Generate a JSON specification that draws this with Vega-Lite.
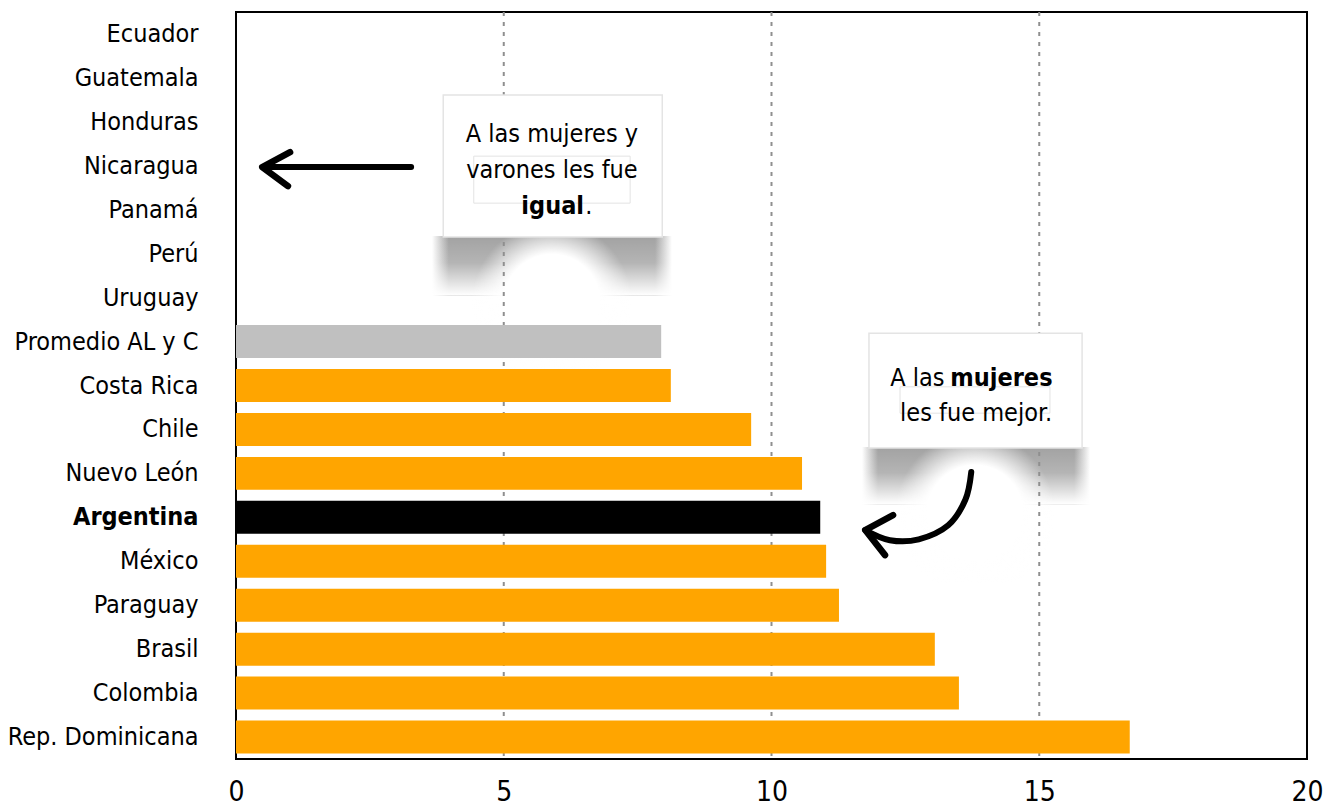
{
  "$schema": "https://vega.github.io/schema/vega-lite/v6.json",
  "autosize": {"type": "none"},
  "width": 1071,
  "height": 747,
  "padding": {"left": 236, "top": 12, "right": 17, "bottom": 50},
  "background": "white",
  "config": {
    "font": "DejaVu Sans Condensed",
    "view": {"stroke": "black", "strokeWidth": 2}
  },
  "datasets": {
    "bars": [
      {"pais": "Ecuador", "valor": 0, "grupo": "otro"},
      {"pais": "Guatemala", "valor": 0, "grupo": "otro"},
      {"pais": "Honduras", "valor": 0, "grupo": "otro"},
      {"pais": "Nicaragua", "valor": 0, "grupo": "otro"},
      {"pais": "Panamá", "valor": 0, "grupo": "otro"},
      {"pais": "Perú", "valor": 0, "grupo": "otro"},
      {"pais": "Uruguay", "valor": 0, "grupo": "otro"},
      {"pais": "Promedio AL y C", "valor": 7.94, "grupo": "promedio"},
      {"pais": "Costa Rica", "valor": 8.12, "grupo": "otro"},
      {"pais": "Chile", "valor": 9.62, "grupo": "otro"},
      {"pais": "Nuevo León", "valor": 10.57, "grupo": "otro"},
      {"pais": "Argentina", "valor": 10.91, "grupo": "argentina"},
      {"pais": "México", "valor": 11.02, "grupo": "otro"},
      {"pais": "Paraguay", "valor": 11.26, "grupo": "otro"},
      {"pais": "Brasil", "valor": 13.05, "grupo": "otro"},
      {"pais": "Colombia", "valor": 13.5, "grupo": "otro"},
      {"pais": "Rep. Dominicana", "valor": 16.69, "grupo": "otro"}
    ],
    "grid": [{"g": 5}, {"g": 10}, {"g": 15}],
    "boxes": [
      {"x": 3.87, "x2": 7.96, "v": 1.89, "v2": 5.12},
      {"x": 11.82, "x2": 15.8, "v": 7.31, "v2": 9.92}
    ],
    "shadows": [
      {"x": 3.66, "x2": 8.14, "v": 5.1, "v2": 6.45},
      {"x": 11.69, "x2": 15.95, "v": 9.9, "v2": 11.2}
    ],
    "domes": [
      {"x": 4.41, "x2": 7.39, "v": 5.01, "v2": 8.19},
      {"x": 12.31, "x2": 15.29, "v": 9.81, "v2": 12.99}
    ],
    "inner": [
      {"x": 4.44, "x2": 7.36, "v": 3.28, "v2": 4.35},
      {"x": 12.4, "x2": 15.2, "v": 8.53, "v2": 9.13}
    ],
    "txtCenter": [
      {"x": 5.9, "v": 2.78, "t": "A las mujeres y"},
      {"x": 5.9, "v": 3.6, "t": "varones les fue"},
      {"x": 13.82, "v": 9.13, "t": "les fue mejor."}
    ],
    "txtBoldRight": [
      {"x": 6.5, "v": 4.42, "t": "igual"}
    ],
    "txtBoldLeft": [
      {"x": 13.34, "v": 8.33, "t": "mujeres"}
    ],
    "txtRegLeft": [
      {"x": 6.52, "v": 4.42, "t": "."}
    ],
    "txtRegRight": [
      {"x": 13.23, "v": 8.33, "t": "A las"}
    ],
    "curves": [
      {"seg": "a1", "o": 1, "x": 3.27, "v": 3.53},
      {"seg": "a1", "o": 2, "x": 0.55, "v": 3.53},
      {"seg": "a2", "o": 1, "x": 13.73, "v": 10.47},
      {"seg": "a2", "o": 2, "x": 13.62, "v": 11.1},
      {"seg": "a2", "o": 3, "x": 13.3, "v": 11.68},
      {"seg": "a2", "o": 4, "x": 12.75, "v": 12.0},
      {"seg": "a2", "o": 5, "x": 12.21, "v": 12.02},
      {"seg": "a2", "o": 6, "x": 11.75, "v": 11.79}
    ],
    "heads": [
      {"seg": "a1h", "o": 1, "x": 1.01, "v": 3.19},
      {"seg": "a1h", "o": 2, "x": 0.49, "v": 3.53},
      {"seg": "a1h", "o": 3, "x": 0.97, "v": 3.96},
      {"seg": "a2h", "o": 1, "x": 12.27, "v": 11.45},
      {"seg": "a2h", "o": 2, "x": 11.75, "v": 11.79},
      {"seg": "a2h", "o": 3, "x": 12.12, "v": 12.36}
    ]
  },
  "resolve": {"scale": {"y": "independent"}},
  "layer": [
    {
      "data": {"name": "shadows"},
      "mark": {"type": "rect", "fill": {"gradient": "linear", "x1": 0, "y1": 0, "x2": 1, "y2": 0, "stops": [
        {"offset": 0, "color": "rgba(100,100,100,0)"},
        {"offset": 0.07, "color": "rgba(100,100,100,0.6)"},
        {"offset": 0.93, "color": "rgba(100,100,100,0.6)"},
        {"offset": 1, "color": "rgba(100,100,100,0)"}
      ]}},
      "encoding": {
        "x": {"field": "x", "type": "quantitative", "title": null, "scale": {"domain": [0, 20], "nice": false}},
        "x2": {"field": "x2"},
        "y": {"field": "v", "type": "quantitative", "scale": {"domain": [0, 17], "reverse": true, "nice": false, "zero": false}, "axis": null},
        "y2": {"field": "v2"}
      }
    },
    {
      "data": {"name": "shadows"},
      "mark": {"type": "rect", "fill": {"gradient": "linear", "x1": 0, "y1": 0, "x2": 0, "y2": 1, "stops": [
        {"offset": 0, "color": "rgba(255,255,255,0)"},
        {"offset": 0.45, "color": "rgba(255,255,255,0.2)"},
        {"offset": 1, "color": "rgba(255,255,255,1)"}
      ]}},
      "encoding": {
        "x": {"field": "x", "type": "quantitative", "title": null},
        "x2": {"field": "x2"},
        "y": {"field": "v", "type": "quantitative", "scale": {"domain": [0, 17], "reverse": true, "nice": false, "zero": false}, "axis": null},
        "y2": {"field": "v2"}
      }
    },
    {
      "data": {"name": "domes"},
      "mark": {"type": "rect", "fill": {"gradient": "radial", "x1": 0.5, "y1": 0.5, "r1": 0, "x2": 0.5, "y2": 0.5, "r2": 0.5, "stops": [
        {"offset": 0, "color": "rgba(255,255,255,1)"},
        {"offset": 0.6, "color": "rgba(255,255,255,1)"},
        {"offset": 1, "color": "rgba(255,255,255,0)"}
      ]}},
      "encoding": {
        "x": {"field": "x", "type": "quantitative", "title": null},
        "x2": {"field": "x2"},
        "y": {"field": "v", "type": "quantitative", "scale": {"domain": [0, 17], "reverse": true, "nice": false, "zero": false}, "axis": null},
        "y2": {"field": "v2"}
      }
    },
    {
      "data": {"name": "grid"},
      "mark": {"type": "rule", "color": "#8f8f8f", "strokeWidth": 2, "strokeDash": [4, 6]},
      "encoding": {
        "x": {"field": "g", "type": "quantitative", "title": null}
      }
    },
    {
      "data": {"name": "boxes"},
      "mark": {"type": "rect", "fill": "white", "stroke": "#e4e4e4", "strokeWidth": 1.5},
      "encoding": {
        "x": {"field": "x", "type": "quantitative", "title": null},
        "x2": {"field": "x2"},
        "y": {"field": "v", "type": "quantitative", "scale": {"domain": [0, 17], "reverse": true, "nice": false, "zero": false}, "axis": null},
        "y2": {"field": "v2"}
      }
    },
    {
      "data": {"name": "inner"},
      "mark": {"type": "rect", "fill": null, "stroke": "#e3e3e3", "strokeWidth": 1},
      "encoding": {
        "x": {"field": "x", "type": "quantitative", "title": null},
        "x2": {"field": "x2"},
        "y": {"field": "v", "type": "quantitative", "scale": {"domain": [0, 17], "reverse": true, "nice": false, "zero": false}, "axis": null},
        "y2": {"field": "v2"}
      }
    },
    {
      "data": {"name": "txtCenter"},
      "mark": {"type": "text", "fontSize": 25, "align": "center", "baseline": "middle", "color": "black"},
      "encoding": {
        "x": {"field": "x", "type": "quantitative", "title": null},
        "y": {"field": "v", "type": "quantitative", "scale": {"domain": [0, 17], "reverse": true, "nice": false, "zero": false}, "axis": null},
        "text": {"field": "t"}
      }
    },
    {
      "data": {"name": "txtRegRight"},
      "mark": {"type": "text", "fontSize": 25, "align": "right", "baseline": "middle", "color": "black"},
      "encoding": {
        "x": {"field": "x", "type": "quantitative", "title": null},
        "y": {"field": "v", "type": "quantitative", "scale": {"domain": [0, 17], "reverse": true, "nice": false, "zero": false}, "axis": null},
        "text": {"field": "t"}
      }
    },
    {
      "data": {"name": "txtRegLeft"},
      "mark": {"type": "text", "fontSize": 25, "align": "left", "baseline": "middle", "color": "black"},
      "encoding": {
        "x": {"field": "x", "type": "quantitative", "title": null},
        "y": {"field": "v", "type": "quantitative", "scale": {"domain": [0, 17], "reverse": true, "nice": false, "zero": false}, "axis": null},
        "text": {"field": "t"}
      }
    },
    {
      "data": {"name": "txtBoldRight"},
      "mark": {"type": "text", "fontSize": 25, "fontWeight": "bold", "align": "right", "baseline": "middle", "color": "black"},
      "encoding": {
        "x": {"field": "x", "type": "quantitative", "title": null},
        "y": {"field": "v", "type": "quantitative", "scale": {"domain": [0, 17], "reverse": true, "nice": false, "zero": false}, "axis": null},
        "text": {"field": "t"}
      }
    },
    {
      "data": {"name": "txtBoldLeft"},
      "mark": {"type": "text", "fontSize": 25, "fontWeight": "bold", "align": "left", "baseline": "middle", "color": "black"},
      "encoding": {
        "x": {"field": "x", "type": "quantitative", "title": null},
        "y": {"field": "v", "type": "quantitative", "scale": {"domain": [0, 17], "reverse": true, "nice": false, "zero": false}, "axis": null},
        "text": {"field": "t"}
      }
    },
    {
      "data": {"name": "curves"},
      "mark": {"type": "line", "color": "black", "strokeWidth": 6, "strokeCap": "round", "strokeJoin": "round", "interpolate": "cardinal"},
      "encoding": {
        "x": {"field": "x", "type": "quantitative", "title": null},
        "y": {"field": "v", "type": "quantitative", "scale": {"domain": [0, 17], "reverse": true, "nice": false, "zero": false}, "axis": null},
        "detail": {"field": "seg", "type": "nominal"},
        "order": {"field": "o", "type": "quantitative"}
      }
    },
    {
      "data": {"name": "heads"},
      "mark": {"type": "line", "color": "black", "strokeWidth": 6.5, "strokeCap": "round", "strokeJoin": "round"},
      "encoding": {
        "x": {"field": "x", "type": "quantitative", "title": null},
        "y": {"field": "v", "type": "quantitative", "scale": {"domain": [0, 17], "reverse": true, "nice": false, "zero": false}, "axis": null},
        "detail": {"field": "seg", "type": "nominal"},
        "order": {"field": "o", "type": "quantitative"}
      }
    },
    {
      "data": {"name": "bars"},
      "mark": {"type": "bar"},
      "encoding": {
        "y": {
          "field": "pais", "type": "nominal", "sort": null,
          "scale": {"paddingInner": 0.25},
          "axis": {
            "title": null, "ticks": false, "domain": false,
            "labelFontSize": 25, "labelColor": "black", "labelPadding": 38, "labelLimit": 400,
            "labelFontWeight": {"condition": {"test": "datum.value == 'Argentina'", "value": "bold"}, "value": "normal"}
          }
        },
        "x": {
          "field": "valor", "type": "quantitative", "title": null,
          "axis": {
            "title": null, "values": [0, 5, 10, 15, 20], "ticks": false, "domain": false, "labelFlush": false,
            "grid": false,
            "labelFontSize": 28, "labelColor": "black", "labelPadding": 19
          }
        },
        "color": {
          "field": "grupo", "type": "nominal", "legend": null,
          "scale": {"domain": ["otro", "promedio", "argentina"], "range": ["#FFA500", "#C0C0C0", "#000000"]}
        }
      }
    }
  ]
}
